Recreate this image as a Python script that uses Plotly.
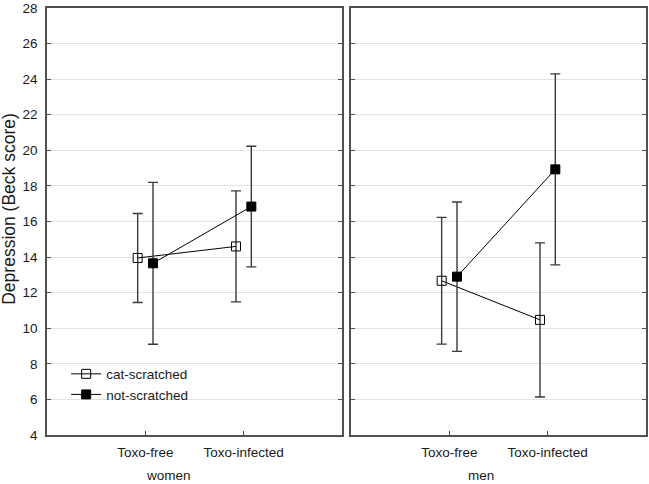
import plotly.graph_objects as go

categories = ["Toxo-free", "Toxo-infected"]
panels = ["women", "men"]
groups = ["cat-scratched", "not-scratched"]

women_cat_mean = [13.95, 14.6]
women_cat_err = [2.5, 3.12]
women_not_mean = [13.65, 16.84]
women_not_err = [4.55, 3.39]

men_cat_mean = [12.67, 10.47]
men_cat_err = [3.56, 4.33]
men_not_mean = [12.9, 18.93]
men_not_err = [4.2, 5.37]

yticks = list(range(4, 30, 2))
ytitle = "Depression (Beck score)"

FONT = "Liberation Sans, Arial, sans-serif"
TXT = "#1a1a1a"
offset = 0.078
xbase = list(range(len(categories)))

fig = go.Figure()

def add(means, errs, name, symbol, xa, ya, dx, show):
    fig.add_trace(go.Scatter(
        x=[b + dx for b in xbase], y=means,
        mode="lines+markers", name=name, showlegend=show, legendgroup=name,
        line=dict(color="black", width=1),
        marker=dict(symbol=symbol, size=9, color="black",
                    line=dict(color="black", width=1)),
        error_y=dict(type="data", array=errs, visible=True,
                     color="#3a3a3a", thickness=1.4, width=5),
        xaxis=xa, yaxis=ya,
    ))

add(women_cat_mean, women_cat_err, groups[0], "square-open", "x", "y", -offset, True)
add(women_not_mean, women_not_err, groups[1], "square", "x", "y", offset, True)
add(men_cat_mean, men_cat_err, groups[0], "square-open", "x2", "y2", -offset, False)
add(men_not_mean, men_not_err, groups[1], "square", "x2", "y2", offset, False)

xcommon = dict(range=[-1, 2], tickvals=xbase, ticktext=categories,
               showline=True, linecolor="#505050", linewidth=1.6, mirror=True,
               ticks="inside", ticklen=4, tickcolor="#505050",
               showgrid=False, zeroline=False, automargin=False,
               ticklabelstandoff=4,
               tickfont=dict(family=FONT, size=13.5, color=TXT))
ycommon = dict(range=[4, 28], tickvals=yticks,
               showline=True, linecolor="#505050", linewidth=1.6, mirror="ticks",
               ticks="inside", ticklen=4, tickcolor="#505050",
               showgrid=True, gridcolor="#e3e3e3", gridwidth=1, zeroline=False,
               automargin=False,
               tickfont=dict(family=FONT, size=13.5, color=TXT))

fig.update_layout(
    template="none",
    width=649, height=484,
    margin=dict(l=47, r=3, t=8, b=49),
    paper_bgcolor="white", plot_bgcolor="white",
    font=dict(family=FONT, size=13.5, color=TXT),
    xaxis=dict(domain=[0, 0.4925], anchor="y", **xcommon),
    xaxis2=dict(domain=[0.5075, 1], anchor="y2", **xcommon),
    yaxis=dict(anchor="x", ticklabelstandoff=5, **ycommon),
    yaxis2=dict(anchor="x2", showticklabels=False, **ycommon),
    legend=dict(x=0.032, y=0.179, xanchor="left", yanchor="top",
                bgcolor="rgba(0,0,0,0)", borderwidth=0, tracegroupgap=0,
                font=dict(family=FONT, size=13.5, color=TXT)),
    showlegend=True,
)

fig.add_annotation(text=ytitle, textangle=-90, x=-0.064, xref="paper", y=0.529, yref="paper",
                   showarrow=False, xanchor="center", yanchor="middle",
                   font=dict(family=FONT, size=17.5, color=TXT))
fig.add_annotation(text=panels[0], x=0.24, xref="x", y=-0.096, yref="paper",
                   showarrow=False, yanchor="middle", font=dict(family=FONT, size=13.5, color=TXT))
fig.add_annotation(text=panels[1], x=0.32, xref="x2", y=-0.096, yref="paper",
                   showarrow=False, yanchor="middle", font=dict(family=FONT, size=13.5, color=TXT))

fig.write_html("out.html", config={"displayModeBar": False},
               post_script="document.body.style.margin='0';document.body.style.overflow='hidden';")
